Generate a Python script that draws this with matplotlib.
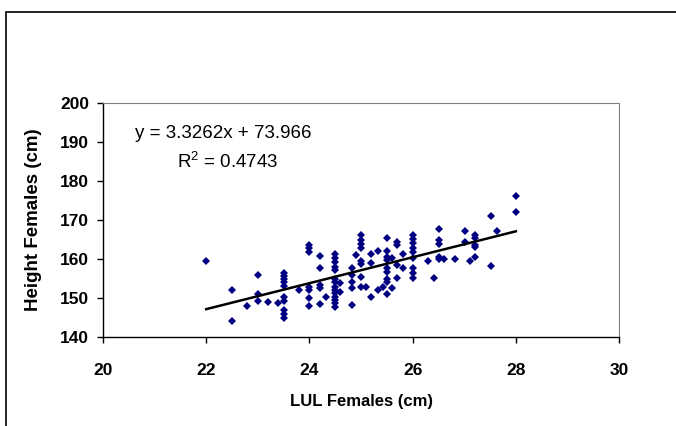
import numpy as np
import matplotlib
matplotlib.use('Agg')
import matplotlib.pyplot as plt
from matplotlib.patches import Rectangle

# LUL (cm) and height (cm) of females
lul = [22.0, 22.5, 22.5, 22.8, 23.0, 23.0, 23.0, 23.2, 23.4,
       23.5, 23.5, 23.5, 23.5, 23.5, 23.5, 23.5, 23.5, 23.5, 23.5,
       23.8,
       24.0, 24.0, 24.0, 24.0, 24.0, 24.0, 24.0,
       24.2, 24.2, 24.2, 24.2, 24.2,
       24.33,
       24.5, 24.5, 24.5, 24.5, 24.5, 24.5, 24.5, 24.5, 24.5, 24.5, 24.5, 24.5, 24.5, 24.5,
       24.6, 24.6,
       24.82, 24.82, 24.82, 24.82, 24.82,
       24.9,
       25.0, 25.0, 25.0, 25.0, 25.0, 25.0, 25.0, 25.0,
       25.1,
       25.2, 25.2, 25.2,
       25.32, 25.32,
       25.43,
       25.5, 25.5, 25.5, 25.5, 25.5, 25.5, 25.5, 25.5, 25.5,
       25.6, 25.6,
       25.7, 25.7, 25.7, 25.7,
       25.82, 25.82,
       26.0, 26.0, 26.0, 26.0, 26.0, 26.0, 26.0, 26.0, 26.0,
       26.3, 26.42,
       26.52, 26.52, 26.52, 26.52, 26.52,
       26.6, 26.82,
       27.02, 27.02, 27.11,
       27.21, 27.21, 27.21, 27.21, 27.21,
       27.51, 27.51, 27.63,
       28.0, 28.0]
height = [159.5, 152.0, 144.0, 148.0, 156.0, 151.0, 149.2, 149.0, 148.8,
          156.5, 155.7, 154.9, 154.0, 153.2, 150.3, 149.2, 147.0, 146.0, 145.0,
          152.1,
          163.6, 162.7, 161.9, 152.9, 152.1, 149.9, 148.0,
          160.7, 157.8, 153.3, 152.6, 148.4,
          150.3,
          161.2, 160.2, 159.2, 158.0, 157.2, 155.0, 154.0, 152.9, 152.1, 151.2, 150.3, 149.5, 148.6, 147.8,
          153.8, 151.6,
          157.6, 155.9, 154.2, 152.5, 148.2,
          161.0,
          166.2, 164.9, 163.8, 162.7, 159.5, 158.6, 155.5, 152.9,
          152.9,
          161.2, 158.9, 150.3,
          162.1, 152.1,
          152.9,
          165.3, 162.1, 160.6, 159.7, 157.6, 156.7, 155.0, 154.2, 150.9,
          160.2, 152.5,
          164.3, 163.6, 158.5, 155.2,
          161.2, 157.6,
          166.2, 165.1, 164.0, 162.9, 161.9, 160.2, 157.6, 156.3, 155.2,
          159.5, 155.2,
          167.7, 165.0, 163.8, 160.6, 159.9,
          160.0, 159.9,
          167.3, 164.3, 159.6,
          166.2, 165.3, 163.6, 163.0, 160.4,
          171.0, 158.2, 167.3,
          176.2, 172.1]

# trendline shown on the chart
slope = 3.3262
intercept = 73.966
r_squared = 0.4743

plt.rcParams['font.family'] = ['Liberation Sans', 'DejaVu Sans']

fig = plt.figure(figsize=(6.76, 4.26), dpi=100)
ax = fig.add_axes([103 / 676, 1 - 337 / 426, 516 / 676, 234 / 426])

ax.plot(lul, height, linestyle='none', marker='D', markersize=3.8,
        color='#000080', markeredgewidth=0)

x_fit = np.array([min(lul), max(lul)])
ax.plot(x_fit, slope * x_fit + intercept, color='black', linewidth=1.8)

ax.set_xlim(20, 30)
ax.set_ylim(140, 200)
ax.set_xticks(np.arange(20, 31, 2))
ax.set_yticks(np.arange(140, 201, 10))
ax.tick_params(direction='out', length=4, width=1, colors='black',
               labelsize=12.5)
ax.tick_params(axis='x', pad=15)
ax.tick_params(axis='y', pad=6)
for lbl in ax.get_xticklabels() + ax.get_yticklabels():
    lbl.set_fontweight('bold')

for side in ['top', 'right']:
    ax.spines[side].set_color('#808080')
    ax.spines[side].set_linewidth(0.8)
for side in ['left', 'bottom']:
    ax.spines[side].set_color('black')
    ax.spines[side].set_linewidth(1)

ax.set_xlabel('LUL Females (cm)', fontsize=12, fontweight='bold', labelpad=11)
ax.set_ylabel('Height Females (cm)', fontsize=13.5, fontweight='bold', labelpad=13)

fig.text(135 / 676, 1 - 134 / 426, 'y = %.4fx + %.3f' % (slope, intercept),
         fontsize=13.5, va='center', ha='left')
fig.text(177 / 676, 1 - 162 / 426, '$\\mathregular{R^2}$ = %.4f' % r_squared,
         fontsize=13.5, va='center', ha='left')

# chart border (cut off at right and bottom)
fig.patches.append(Rectangle((6 / 676, -0.1), 1.2, 1 - 12 / 426 + 0.1,
                             transform=fig.transFigure, fill=False,
                             edgecolor='black', linewidth=1.2))

fig.savefig('out.png', dpi=100, facecolor='white')
